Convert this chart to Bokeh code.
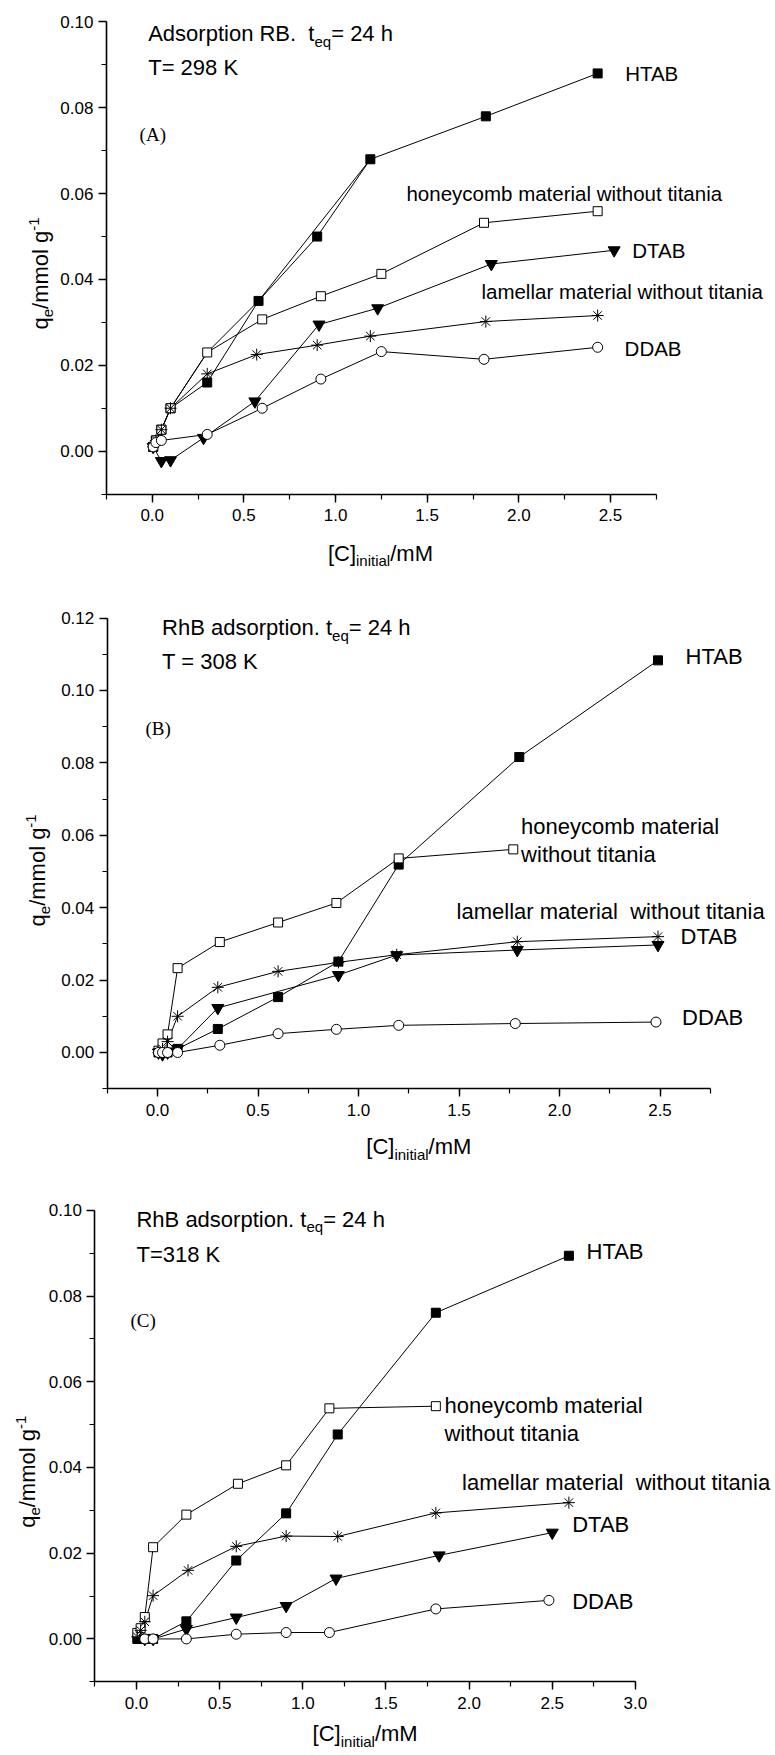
from math import pi

from bokeh.embed import file_html
from bokeh.layouts import column
from bokeh.models import Label, NumeralTickFormatter, Range1d, SingleIntervalTicker
from bokeh.plotting import figure
from bokeh.resources import INLINE

SANS = "Liberation Sans"
SERIF = "Liberation Serif"
W, H = 775, 585  # size of each panel

# ---------------- (A) RB adsorption, 298 K ----------------
A_htab_x = [0.005, 0.02, 0.05, 0.10, 0.30, 0.58, 0.90, 1.19, 1.82, 2.43]
A_htab_y = [0.001, 0.0025, 0.005, 0.010, 0.016, 0.035, 0.050, 0.068, 0.078, 0.088]
A_htab2_x = [0.10, 0.30, 0.58, 1.19]            # second HTAB run, line only
A_htab2_y = [0.010, 0.023, 0.035, 0.068]
A_honey_x = [0.005, 0.02, 0.05, 0.10, 0.30, 0.60, 0.92, 1.25, 1.81, 2.43]
A_honey_y = [0.001, 0.0025, 0.005, 0.010, 0.023, 0.0307, 0.0361, 0.0413, 0.0532, 0.0559]
A_dtab_x = [0.005, 0.05, 0.10, 0.28, 0.56, 0.91, 1.23, 1.85, 2.52]
A_dtab_y = [0.001, -0.0023, -0.0021, 0.0031, 0.0116, 0.0295, 0.0333, 0.0436, 0.0468]
A_lam_x = [0.005, 0.02, 0.05, 0.10, 0.30, 0.57, 0.90, 1.19, 1.82, 2.43]
A_lam_y = [0.001, 0.0025, 0.005, 0.010, 0.018, 0.0225, 0.0247, 0.0268, 0.0302, 0.0316]
A_ddab_x = [0.005, 0.02, 0.05, 0.30, 0.60, 0.92, 1.25, 1.81, 2.43]
A_ddab_y = [0.001, 0.002, 0.0025, 0.0039, 0.0100, 0.0168, 0.0232, 0.0214, 0.0242]

# ---------------- (B) RhB adsorption, 308 K ----------------
B_htab_x = [0.005, 0.02, 0.05, 0.10, 0.30, 0.60, 0.90, 1.20, 1.80, 2.49]
B_htab_y = [0.0, 0.0, 0.0, 0.001, 0.0065, 0.0153, 0.0251, 0.0519, 0.0816, 0.1083]
B_honey_x = [0.005, 0.025, 0.05, 0.10, 0.31, 0.60, 0.89, 1.20, 1.77]
B_honey_y = [0.0005, 0.0025, 0.005, 0.0233, 0.0305, 0.0359, 0.0413, 0.0536, 0.0561]
B_dtab_x = [0.005, 0.025, 0.05, 0.10, 0.30, 0.90, 1.19, 1.79, 2.49]
B_dtab_y = [0.0, -0.0005, 0.0, 0.001, 0.0123, 0.0214, 0.0269, 0.0283, 0.0297]
B_lam_x = [0.005, 0.025, 0.05, 0.10, 0.30, 0.60, 0.90, 1.19, 1.79, 2.49]
B_lam_y = [0.0, 0.001, 0.003, 0.010, 0.018, 0.0224, 0.0249, 0.0270, 0.0306, 0.0320]
B_ddab_x = [0.005, 0.025, 0.05, 0.10, 0.31, 0.60, 0.89, 1.20, 1.78, 2.48]
B_ddab_y = [0.0, 0.0, 0.0, 0.0, 0.002, 0.0052, 0.0064, 0.0075, 0.0080, 0.0084]

# ---------------- (C) RhB adsorption, 318 K ----------------
C_htab_x = [0.005, 0.025, 0.05, 0.10, 0.30, 0.60, 0.90, 1.21, 1.80, 2.60]
C_htab_y = [0.0, 0.0, 0.0, 0.0, 0.0041, 0.0183, 0.0293, 0.0477, 0.0761, 0.0894]
C_honey_x = [0.005, 0.025, 0.05, 0.10, 0.30, 0.61, 0.90, 1.16, 1.80]
C_honey_y = [0.0014, 0.0025, 0.0051, 0.0214, 0.0290, 0.0362, 0.0405, 0.0538, 0.0543]
C_dtab_x = [0.05, 0.10, 0.30, 0.60, 0.90, 1.20, 1.82, 2.50]
C_dtab_y = [0.0, 0.0, 0.0023, 0.0050, 0.0077, 0.0141, 0.0195, 0.0248]
C_lam_x = [0.005, 0.025, 0.05, 0.10, 0.31, 0.60, 0.90, 1.21, 1.80, 2.60]
C_lam_y = [0.0005, 0.002, 0.004, 0.0101, 0.0160, 0.0216, 0.0240, 0.0239, 0.0294, 0.0318]
C_ddab_x = [0.05, 0.10, 0.30, 0.60, 0.90, 1.16, 1.80, 2.48]
C_ddab_y = [0.0, 0.0, 0.0, 0.0011, 0.0015, 0.0015, 0.0070, 0.0090]

# marker style per surfactant / material (None = line only)
STYLE = {
    "HTAB": dict(marker="square", fill_color="black", size=9),
    "honeycomb": dict(marker="square", fill_color="white", size=9),
    "DTAB": dict(marker="inverted_triangle", fill_color="black", size=12),
    "lamellar": dict(marker="asterisk", fill_color=None, size=12),
    "DDAB": dict(marker="circle", fill_color="white", size=10),
    "line": None,
}

# Liberation Sans advance widths (1/1000 em), used to lay out mixed-size text
ADV = {
    " ": 278, "(": 333, ")": 333, "-": 333, ".": 278, "/": 278, "=": 584,
    "[": 278, "]": 278, "A": 667, "B": 667, "C": 722, "D": 722, "H": 722,
    "K": 667, "M": 833, "R": 722, "T": 611,
    "a": 556, "b": 556, "c": 500, "d": 556, "e": 556, "g": 556, "h": 556,
    "i": 222, "l": 222, "m": 833, "n": 556, "o": 556, "p": 556, "q": 556,
    "r": 333, "s": 500, "t": 278, "u": 556, "w": 722, "y": 500,
}
CAP_MID = 0.36  # height of the capitals' middle above the baseline, in em


def advance(s, size):
    return sum(ADV.get(c, 556) for c in s) * size / 1000.0


def rich(fig, x, y, parts, size, angle=0.0, dx=0.0, dy=0.0, centered=False, font=SANS):
    """Draw a line of text made of (text, font px, baseline rise px) pieces.
    (x, y) shifted by (dx, dy) pixels is the middle of the capitals at the
    start of the line (or at its centre when centered=True)."""
    widths = [advance(t, s) for t, s, _ in parts]
    pos = -sum(widths) / 2 if centered else 0.0
    for (t, s, rise), w in zip(parts, widths):
        if t.strip():
            shift = rise - CAP_MID * (size - s)
            if angle:
                ox, oy = dx - shift, dy + pos
            else:
                ox, oy = dx + pos, dy + shift
            fig.add_layout(Label(
                x=x, y=y, text=t, angle=angle, x_offset=ox, y_offset=oy,
                text_font=font, text_font_size=f"{s}px", text_color="black",
                text_baseline="alphabetic", text_align="left"))
        pos += w


def make_panel(box, x_end, y_end, series, title, temp, tag, notes, note_size,
               xtitle_at, xtitle_drop, ytitle_at, ytitle_shift):
    # box: canvas pixels of the axis corner span (left, top, right, bottom)
    left, top, right, bottom = box
    kx = (x_end + 0.25) / (right - left)
    ky = (y_end + 0.01) / (bottom - top)
    xr = Range1d(-0.25 - left * kx, x_end + (W - right) * kx)
    yr = Range1d(-0.01 - (H - bottom) * ky, y_end + top * ky)

    p = figure(width=W, height=H, x_range=xr, y_range=yr,
               min_border=0, output_backend="svg", toolbar_location=None,
               background_fill_color="white", border_fill_color="white")
    p.outline_line_color = None
    p.xgrid.visible = False
    p.ygrid.visible = False

    # axes pinned at the lower-left corner of the data area
    p.xaxis.fixed_location = -0.01
    p.yaxis.fixed_location = -0.25
    p.xaxis.bounds = (-0.25, x_end)
    p.yaxis.bounds = (-0.01, y_end)
    p.xaxis.ticker = SingleIntervalTicker(interval=0.5, num_minor_ticks=2)
    p.yaxis.ticker = SingleIntervalTicker(interval=0.02, num_minor_ticks=2)
    p.xaxis.formatter = NumeralTickFormatter(format="0.0")
    p.yaxis.formatter = NumeralTickFormatter(format="0.00")
    for ax in (p.xaxis, p.yaxis):
        ax.axis_line_width = 1.6
        ax.axis_line_color = "black"
        ax.major_tick_line_color = "black"
        ax.minor_tick_line_color = "black"
        ax.major_tick_line_width = 1.4
        ax.minor_tick_line_width = 1.2
        ax.major_tick_in = 0
        ax.major_tick_out = 8
        ax.minor_tick_in = 0
        ax.minor_tick_out = 5
        ax.major_label_text_font = SANS
        ax.major_label_text_font_size = "17px"
        ax.major_label_text_color = "black"
    p.xaxis.major_label_standoff = 7
    p.yaxis.major_label_standoff = 5

    for xs, ys, key in series:
        p.line(xs, ys, line_color="black", line_width=1)
    for xs, ys, key in series:
        st = STYLE[key]
        if st is None:
            continue
        p.scatter(xs, ys, marker=st["marker"], size=st["size"],
                  fill_color=st["fill_color"], line_color="black", line_width=1)

    # header lines and panel tag
    tx, ty = title[0]
    rich(p, tx, ty, title[1], 22)
    rich(p, temp[0], temp[1], [(temp[2], 22, 0)], 22)
    rich(p, tag[0], tag[1], [(tag[2], 19, 0)], 19, font=SERIF)

    # curve labels
    for text, nx, ny in notes:
        rich(p, nx, ny, text, note_size)

    # axis titles
    rich(p, xtitle_at, -0.01,
         [("[C]", 22, 0), ("initial", 15, -5), ("/mM", 22, 0)], 22,
         dy=-xtitle_drop, centered=True)
    rich(p, -0.25, ytitle_at,
         [("q", 22, 0), ("e", 15, -5), ("/mmol g", 22, 0), ("-1", 15, 9)], 22,
         angle=pi / 2, dx=-ytitle_shift, centered=True)
    return p


def words(text, size=22):
    return [(text, size, 0)]


def header(head):
    return [(head, 22, 0), ("  " if "RB" in head else " ", 22, 0),
            ("t", 22, 0), ("eq", 15, -5), ("= 24 h", 22, 0)]


pA = make_panel(
    (105.9, 21.4, 655.8, 493.6), 2.75, 0.10,
    [(A_htab2_x, A_htab2_y, "line"),
     (A_htab_x, A_htab_y, "HTAB"), (A_honey_x, A_honey_y, "honeycomb"),
     (A_dtab_x, A_dtab_y, "DTAB"), (A_lam_x, A_lam_y, "lamellar"),
     (A_ddab_x, A_ddab_y, "DDAB")],
    ((-0.022, 0.0973), header("Adsorption RB.")),
    (-0.022, 0.0894, "T= 298 K"),
    (-0.069, 0.0738, "(A)"),
    [(words("HTAB", 20.5), 2.58, 0.0880),
     (words("honeycomb material without titania", 20.5), 1.387, 0.0601),
     (words("DTAB", 20.5), 2.619, 0.0468),
     (words("lamellar material without titania", 20.5), 1.796, 0.0372),
     (words("DDAB", 20.5), 2.577, 0.0239)],
    20.5, 1.245, 59, 0.0414, 66)

pB = make_panel(
    (106.75, 32.5, 709.75, 503.2), 2.75, 0.12,
    [(B_htab_x, B_htab_y, "HTAB"), (B_honey_x, B_honey_y, "honeycomb"),
     (B_dtab_x, B_dtab_y, "DTAB"), (B_lam_x, B_lam_y, "lamellar"),
     (B_ddab_x, B_ddab_y, "DDAB")],
    ((0.023, 0.1173), header("RhB adsorption.")),
    (0.023, 0.1079, "T = 308 K"),
    (-0.06, 0.0896, "(B)"),
    [(words("HTAB"), 2.627, 0.1093),
     (words("honeycomb material"), 1.809, 0.0623),
     (words("without titania"), 1.809, 0.0547),
     ([("lamellar material", 22, 0), ("  ", 22, 0), ("without titania", 22, 0)], 1.488, 0.0390),
     (words("DTAB"), 2.602, 0.0319),
     (words("DDAB"), 2.610, 0.0096)],
    22, 1.30, 58, 0.0503, 70)

pC = make_panel(
    (94.4, 39.8, 634.9, 511.3), 3.0, 0.10,
    [(C_htab_x, C_htab_y, "HTAB"), (C_honey_x, C_honey_y, "honeycomb"),
     (C_dtab_x, C_dtab_y, "DTAB"), (C_lam_x, C_lam_y, "lamellar"),
     (C_ddab_x, C_ddab_y, "DDAB")],
    ((0.0, 0.0979), header("RhB adsorption.")),
    (0.0, 0.0896, "T=318 K"),
    (-0.036, 0.0743, "(C)"),
    [(words("HTAB"), 2.706, 0.0903),
     (words("honeycomb material"), 1.852, 0.0545),
     (words("without titania"), 1.852, 0.0479),
     ([("lamellar material", 22, 0), ("  ", 22, 0), ("without titania", 22, 0)], 1.958, 0.0365),
     (words("DTAB"), 2.62, 0.0267),
     (words("DDAB"), 2.62, 0.0087)],
    22, 1.375, 52, 0.0390, 67)

layout = column(pA, pB, pC, spacing=0)
open("out.html", "w").write(file_html(layout, INLINE))
